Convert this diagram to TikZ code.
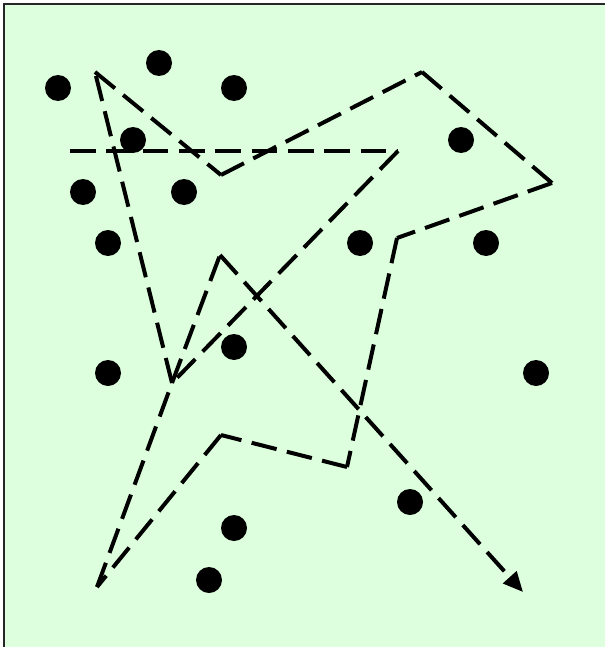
\documentclass[tikz,border=0pt]{standalone}
\usepackage{xcolor}
\usepackage{tikz}
\usetikzlibrary{arrows.meta}
\definecolor{fieldgreen}{RGB}{221,255,221}

\begin{document}
\begin{tikzpicture}[
  x=0.03cm, y=-0.03cm,
  city/.style={circle, fill=black, minimum size=0.78cm, inner sep=0pt},
  tour/.style={line width=3.4pt, dash pattern=on 22pt off 9pt},
  tourend/.style={-{Triangle[length=17pt, width=15pt]}}
]
\useasboundingbox (0,0) rectangle (605,647);
\fill[fieldgreen] (4,4) rectangle (605,647);
\draw[line width=1.8pt, black!85] (605,4) -- (4,4) -- (4,647);
% cities
\node[city] (c1) at (58,88) {};
\node[city] (c2) at (159,63) {};
\node[city] (c3) at (234,88) {};
\node[city] (c4) at (133,140) {};
\node[city] (c5) at (461,140) {};
\node[city] (c6) at (83,192) {};
\node[city] (c7) at (184,192) {};
\node[city] (c8) at (108,243) {};
\node[city] (c9) at (360,243) {};
\node[city] (c10) at (486,243) {};
\node[city] (c11) at (234,347) {};
\node[city] (c12) at (108,373) {};
\node[city] (c13) at (536,373) {};
\node[city] (c14) at (410,502) {};
\node[city] (c15) at (234,528) {};
\node[city] (c16) at (209,580) {};
% tour corners
\coordinate (v1) at (70,151);
\coordinate (v2) at (398,151);
\coordinate (v3) at (172,383);
\coordinate (v4) at (95,72);
\coordinate (v5) at (221,175);
\coordinate (v6) at (422,72);
\coordinate (v7) at (552,183);
\coordinate (v8) at (397,238);
\coordinate (v9) at (347,467);
\coordinate (v10) at (221,435);
\coordinate (v11) at (97,587);
\coordinate (v12) at (220,255);
\coordinate (v13) at (523,592);
\foreach \a/\b in {v1/v2, v2/v3, v3/v4, v4/v5, v5/v6, v6/v7, v7/v8,
                   v8/v9, v9/v10, v10/v11, v11/v3, v3/v12}
  \draw[tour] (\a) -- (\b);
\draw[tour, tourend] (v12) -- (v13);
\end{tikzpicture}
\end{document}
